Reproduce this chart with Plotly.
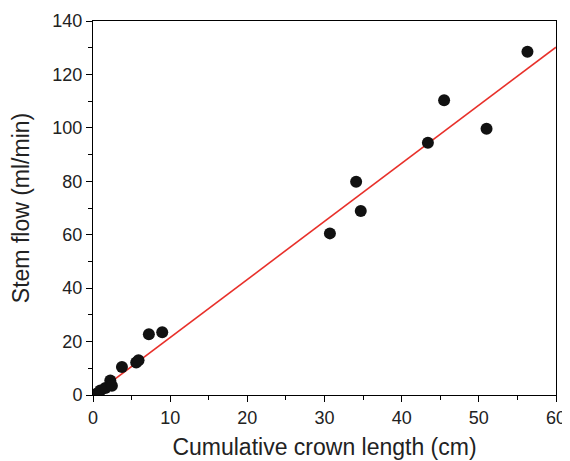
import plotly.graph_objects as go

crown_length = [0.5, 0.95, 1.6, 2.24, 2.45, 3.75, 5.6, 5.9, 7.24, 8.97,
                30.7, 34.1, 34.7, 43.4, 45.5, 51.0, 56.3]
stem_flow = [0.5, 1.7, 2.6, 5.4, 3.5, 10.5, 12.2, 13.0, 22.7, 23.5,
             60.5, 79.8, 68.9, 94.4, 110.3, 99.7, 128.5]
fit_x = [0, 60]
fit_y = [-0.2, 130.2]

fig = go.Figure()
fig.add_trace(go.Scatter(x=fit_x, y=fit_y, mode="lines",
                         line=dict(color="#e8302a", width=1.6), showlegend=False))
fig.add_trace(go.Scatter(x=crown_length, y=stem_flow, mode="markers",
                         marker=dict(color="#111111", size=12), showlegend=False))

axis_common = dict(showgrid=False, zeroline=False, showline=True, linecolor="black",
                   linewidth=1, mirror=True, ticks="outside", ticklen=6, tickwidth=1,
                   tickcolor="black", tickfont=dict(size=18, color="#222"), automargin=False)
fig.update_xaxes(range=[0, 60], dtick=10, **axis_common,
                 minor=dict(ticks="outside", ticklen=4, dtick=5, tickcolor="black"),
                 title=dict(text="Cumulative crown length (cm)", font=dict(size=23, color="#222"), standoff=12))
fig.update_yaxes(range=[0, 140], dtick=20, **axis_common,
                 minor=dict(ticks="outside", ticklen=4, dtick=10, tickcolor="black"),
                 title=dict(text="Stem flow (ml/min)", font=dict(size=23, color="#222"), standoff=16))
# page body adds an 8px offset; size/margins compensate so the plot area lands where the reference has it
fig.update_layout(width=562, height=453, margin=dict(l=85, r=14, t=13, b=66),
                  plot_bgcolor="white", paper_bgcolor="white",
                  font=dict(family="Liberation Sans, Arial, sans-serif"))
fig.write_html("out.html")
